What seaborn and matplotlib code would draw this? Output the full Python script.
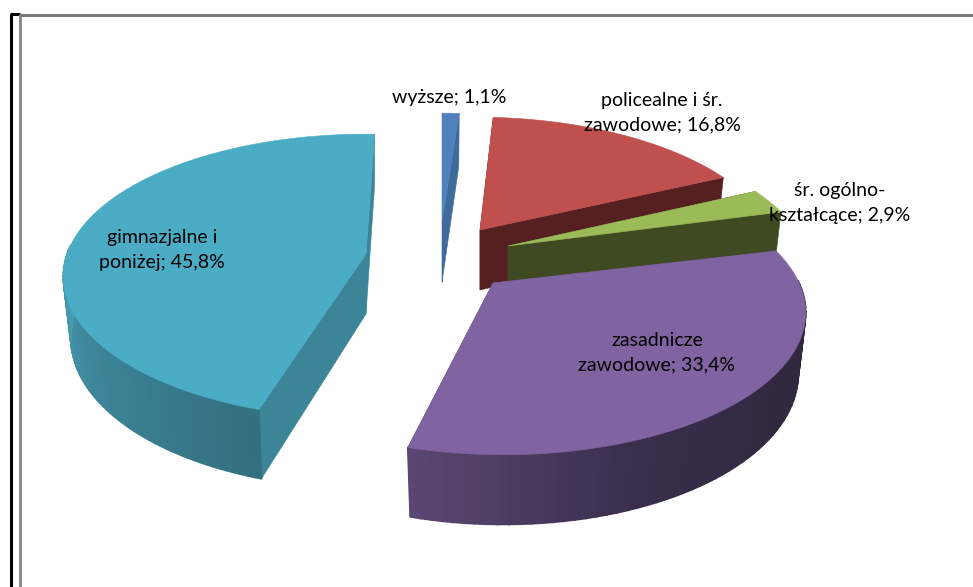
import numpy as np
import matplotlib
matplotlib.use('Agg')
import matplotlib.pyplot as plt
import seaborn as sns

# data
names = ['wyższe', 'policealne i śr.\nzawodowe', 'śr. ogólno-\nkształcące', 'zasadnicze\nzawodowe', 'gimnazjalne i\nponiżej']
values = [1.1, 16.8, 2.9, 33.4, 45.8]

# styles
top_colors = ['#4F81BD', '#C0504D', '#9BBB59', '#8064A2', '#4BACC6']
cut_colors = ['#3F6A9C', '#562021', '#404A22', '#54426F', '#3C8599']
wall_stops = [['#3F6A9C', '#3F6A9C'], ['#562021', '#562021'], ['#404A22', '#404A22'],
              ['#32283F', '#32283F', '#3A2E4C', '#5A4672'], ['#33707F', '#3D8599', '#4A9FB5']]

# layout in pixels
tips = [(442, 222), (480, 230), (508, 246), (493, 283), (366, 254)]
rim_centers = [(442, 228), (476, 232), (508, 246), (503, 285), (366, 249)]
turns = [0, 0, 0, 0, 2]
label_pos = [(449, 97), (662, 113), (840, 203), (657, 353), (162, 250)]
R, A, K, D = 297, 137, 0.193, 60
SHRINK = 0.975  # lower rim is a bit narrower

sns.set_theme(style='white')
plt.rcParams['font.family'] = ['Lato', 'DejaVu Sans']

fig = plt.figure(figsize=(9.73, 5.87), dpi=100)
ax = fig.add_axes([0, 0, 1, 1])
ax.set_xlim(0, 973)
ax.set_ylim(587, 0)
ax.axis('off')


def rim(c, theta):
    t = np.radians(theta)
    w = 1 + K * np.cos(t)
    x = R * np.sin(t) / w
    return c[0] + x, c[1] - A * np.cos(t) / w, c[0] + x * SHRINK, D / w ** 0.7


def poly(xs, ys, c, z, lw=0.4):
    ax.fill(xs, ys, facecolor=c, edgecolor=c, linewidth=lw, zorder=z)


edges = np.cumsum([0] + values) * 3.6
# back to front, so the purple top hides the bottom of the green wall
order = [0, 1, 2, 4, 3]
for z, i in enumerate(order):
    tip, c = tips[i], rim_centers[i]
    a0, a1 = edges[i] + turns[i], edges[i + 1] + turns[i]
    zz = z * 10 + 1

    # cut faces
    for a in (a0, a1):
        x, y, xb, d = rim(c, a)
        poly([tip[0], x, xb, tip[0]], [tip[1], y, y + d, tip[1] + D], cut_colors[i], zz)

    # outer wall, only the part turned to the viewer
    lo, hi = max(a0, 88), min(a1, 272)
    if hi > lo:
        th = np.linspace(lo, hi, 61)
        shades = sns.blend_palette(wall_stops[i], len(th) - 1)
        for j in range(len(th) - 1):
            x0, y0, xb0, d0 = rim(c, th[j])
            x1, y1, xb1, d1 = rim(c, th[j + 1])
            poly([x0, x1, xb1, xb0], [y0, y1, y1 + d1, y0 + d0], shades[j], zz + 1, lw=1.2)

    # top face
    th = np.linspace(a0, a1, 120)
    pts = [rim(c, a) for a in th]
    poly([tip[0]] + [p[0] for p in pts], [tip[1]] + [p[1] for p in pts], top_colors[i], zz + 2)

for name, v, (lx, ly) in zip(names, values, label_pos):
    label = name + '; ' + f'{v:.1f}'.replace('.', ',') + '%'
    ax.text(lx, ly, label, ha='center', va='center', fontsize=14, color='black',
            linespacing=1.55, zorder=100)

# frame of the pasted picture
ax.plot([11, 11], [587, 14], color='black', lw=2.2, solid_capstyle='butt', zorder=200)
ax.plot([10, 20], [14, 14], color='black', lw=2.2, solid_capstyle='butt', zorder=200)
ax.plot([20, 20], [587, 14], color='#8C8C8C', lw=2.2, solid_capstyle='butt', zorder=200)
ax.plot([20, 973], [14.5, 14.5], color='#7A7A7A', lw=2.2, solid_capstyle='butt', zorder=200)

fig.savefig('out.png', dpi=100)
